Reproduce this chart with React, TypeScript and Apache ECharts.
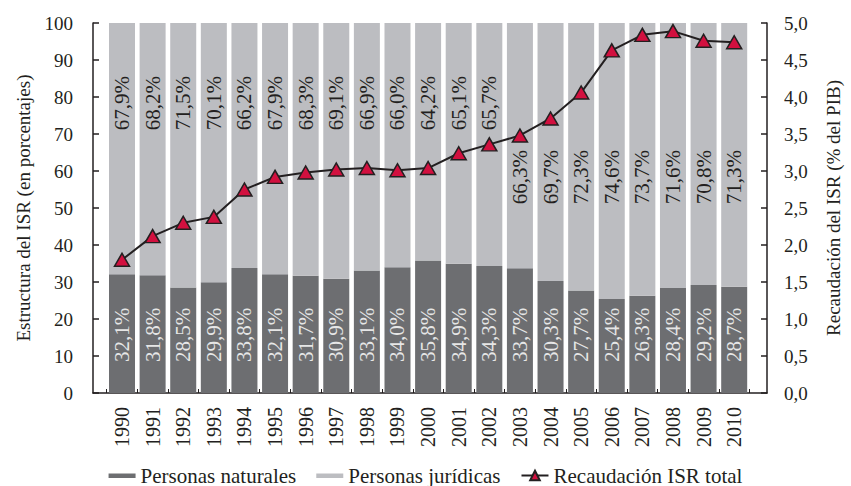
import React, { useEffect, useRef } from "react";
import * as echarts from "echarts";

const years = ["1990","1991","1992","1993","1994","1995","1996","1997","1998","1999","2000","2001","2002","2003","2004","2005","2006","2007","2008","2009","2010"];
const naturales = [32.1, 31.8, 28.5, 29.9, 33.8, 32.1, 31.7, 30.9, 33.1, 34.0, 35.8, 34.9, 34.3, 33.7, 30.3, 27.7, 25.4, 26.3, 28.4, 29.2, 28.7];
const juridicas = [67.9, 68.2, 71.5, 70.1, 66.2, 67.9, 68.3, 69.1, 66.9, 66.0, 64.2, 65.1, 65.7, 66.3, 69.7, 72.3, 74.6, 73.7, 71.6, 70.8, 71.3];
const recaudacion = [1.8, 2.12, 2.3, 2.38, 2.75, 2.92, 2.98, 3.02, 3.04, 3.01, 3.04, 3.24, 3.36, 3.48, 3.71, 4.06, 4.63, 4.84, 4.89, 4.76, 4.74];
const lowLabelFrom = "2003";

const FONT = "'Liberation Serif', 'Times New Roman', serif";
const INK = "#231f20";
const DARK = "#6d6e71";
const LIGHT = "#bcbdc1";
const RED = "#d2103f";

const pct = (v: number) => v.toFixed(1).replace(".", ",") + "%";
const barIcon = "path://M0,0L0,0M27,12L27,12M0,4h27v4.5h-27z";

export default function App() {
  const ref = useRef<HTMLDivElement>(null);
  useEffect(() => {
    document.body.style.margin = "0";
    const chart = echarts.init(ref.current!, null, { renderer: "svg" });
    const lowIdx = years.indexOf(lowLabelFrom);
    chart.setOption({
      animation: false,
      textStyle: { fontFamily: FONT, color: INK },
      grid: [
        { left: 106.7, right: 101.5, top: 23, bottom: 93 },
        { left: 93, right: 81, top: 23, bottom: 93 },
      ],
      legend: {
        left: "center",
        top: 465,
        padding: 0,
        itemWidth: 27,
        itemHeight: 12,
        itemGap: 20,
        textStyle: { fontFamily: FONT, fontSize: 21, color: INK },
        data: [
          { name: "Personas naturales", icon: barIcon },
          { name: "Personas jurídicas", icon: barIcon },
          { name: "Recaudación ISR total" },
        ],
      },
      xAxis: [
        {
          gridIndex: 0,
          type: "category",
          data: years,
          axisLine: { show: false },
          axisTick: { show: true, inside: true, length: 4, lineStyle: { color: INK } },
          axisLabel: { rotate: 90, fontSize: 20, color: INK, fontFamily: FONT, margin: 14 },
        },
        {
          gridIndex: 1,
          type: "value",
          min: 0,
          max: 1,
          axisLine: { show: true, onZero: false, lineStyle: { color: INK, width: 1.5 } },
          axisTick: { show: false },
          axisLabel: { show: false },
          splitLine: { show: false },
        },
      ],
      yAxis: [
        { gridIndex: 0, type: "value", min: 0, max: 100, show: false },
        { gridIndex: 0, type: "value", min: 0, max: 5, show: false },
        {
          gridIndex: 1,
          type: "value",
          position: "left",
          min: 0,
          max: 100,
          interval: 10,
          name: "Estructura del ISR (en porcentajes)",
          nameLocation: "middle",
          nameRotate: 90,
          nameGap: 60,
          nameTextStyle: { fontFamily: FONT, fontSize: 19, color: INK },
          axisLine: { show: true, lineStyle: { color: INK, width: 1.5 } },
          axisTick: { show: true, inside: true, length: 6, lineStyle: { color: INK, width: 1.5 } },
          axisLabel: { fontSize: 19, color: INK, fontFamily: FONT, margin: 20 },
          splitLine: { show: false },
        },
        {
          gridIndex: 1,
          type: "value",
          position: "right",
          min: 0,
          max: 5,
          interval: 0.5,
          name: "Recaudación del ISR (% del PIB)",
          nameLocation: "middle",
          nameRotate: 90,
          nameGap: 57,
          nameTextStyle: { fontFamily: FONT, fontSize: 19, color: INK },
          axisLine: { show: true, lineStyle: { color: INK, width: 1.5 } },
          axisTick: { show: true, inside: true, length: 6, lineStyle: { color: INK, width: 1.5 } },
          axisLabel: {
            fontSize: 19,
            color: INK,
            fontFamily: FONT,
            margin: 17,
            formatter: (v: number) => v.toFixed(1).replace(".", ","),
          },
          splitLine: { show: false },
        },
      ],
      series: [
        {
          name: "Personas naturales",
          type: "bar",
          xAxisIndex: 0,
          yAxisIndex: 0,
          stack: "isr",
          barWidth: 26,
          itemStyle: { color: DARK },
          label: {
            show: true,
            position: "insideBottom",
            distance: 31,
            rotate: 90,
            align: "left",
            verticalAlign: "middle",
            fontFamily: FONT,
            fontSize: 21,
            color: "#e6e6e6",
            formatter: (p: any) => pct(p.value),
          },
          data: naturales,
        },
        {
          name: "Personas jurídicas",
          type: "bar",
          xAxisIndex: 0,
          yAxisIndex: 0,
          stack: "isr",
          barWidth: 26,
          itemStyle: { color: LIGHT },
          label: {
            show: true,
            position: "insideTop",
            distance: 53,
            rotate: 90,
            align: "right",
            verticalAlign: "middle",
            fontFamily: FONT,
            fontSize: 21,
            color: INK,
            formatter: (p: any) => pct(p.value),
          },
          data: juridicas.map((v, i) => ({
            value: v,
            label: { distance: i >= lowIdx ? 127 : 53 },
          })),
        },
        {
          name: "Recaudación ISR total",
          type: "line",
          xAxisIndex: 0,
          yAxisIndex: 1,
          symbol: "triangle",
          symbolSize: [15, 13],
          z: 5,
          lineStyle: { color: INK, width: 2 },
          itemStyle: { color: RED, borderColor: INK, borderWidth: 1.5 },
          data: recaudacion,
        },
      ],
    });
    return () => chart.dispose();
  }, []);
  return (
    <div
      ref={ref}
      style={{ position: "absolute", left: 0, top: 0, width: 851, height: 486 }}
    />
  );
}
